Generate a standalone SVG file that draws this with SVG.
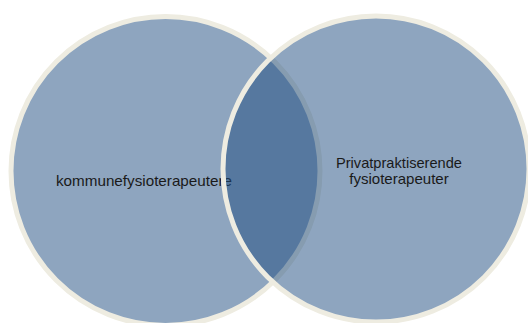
<svg xmlns="http://www.w3.org/2000/svg" width="528" height="323" viewBox="0 0 528 323">
  <style>
    .circle { fill: #1D4B7F; fill-opacity: 0.5; stroke: #EEECE1; stroke-width: 5; }
    .label { font-family: "Liberation Sans", Arial, sans-serif; font-size: 14.5px; fill: #1A1A1A; }
  </style>
  <rect width="528" height="323" fill="#FFFFFF"/>
  <g id="kommune">
    <circle class="circle" cx="165.5" cy="171" r="154.5"/>
    <text class="label" x="56" y="186" textLength="176" lengthAdjust="spacingAndGlyphs">kommunefysioterapeutere</text>
  </g>
  <g id="privat">
    <circle class="circle" cx="376" cy="169" r="153"/>
    <text class="label" text-anchor="middle">
      <tspan x="401" y="168.3" textLength="126" lengthAdjust="spacingAndGlyphs">Privatpraktiserende</tspan>
      <tspan x="399" y="184.3" textLength="99.5" lengthAdjust="spacingAndGlyphs">fysioterapeuter</tspan>
    </text>
  </g>
</svg>
